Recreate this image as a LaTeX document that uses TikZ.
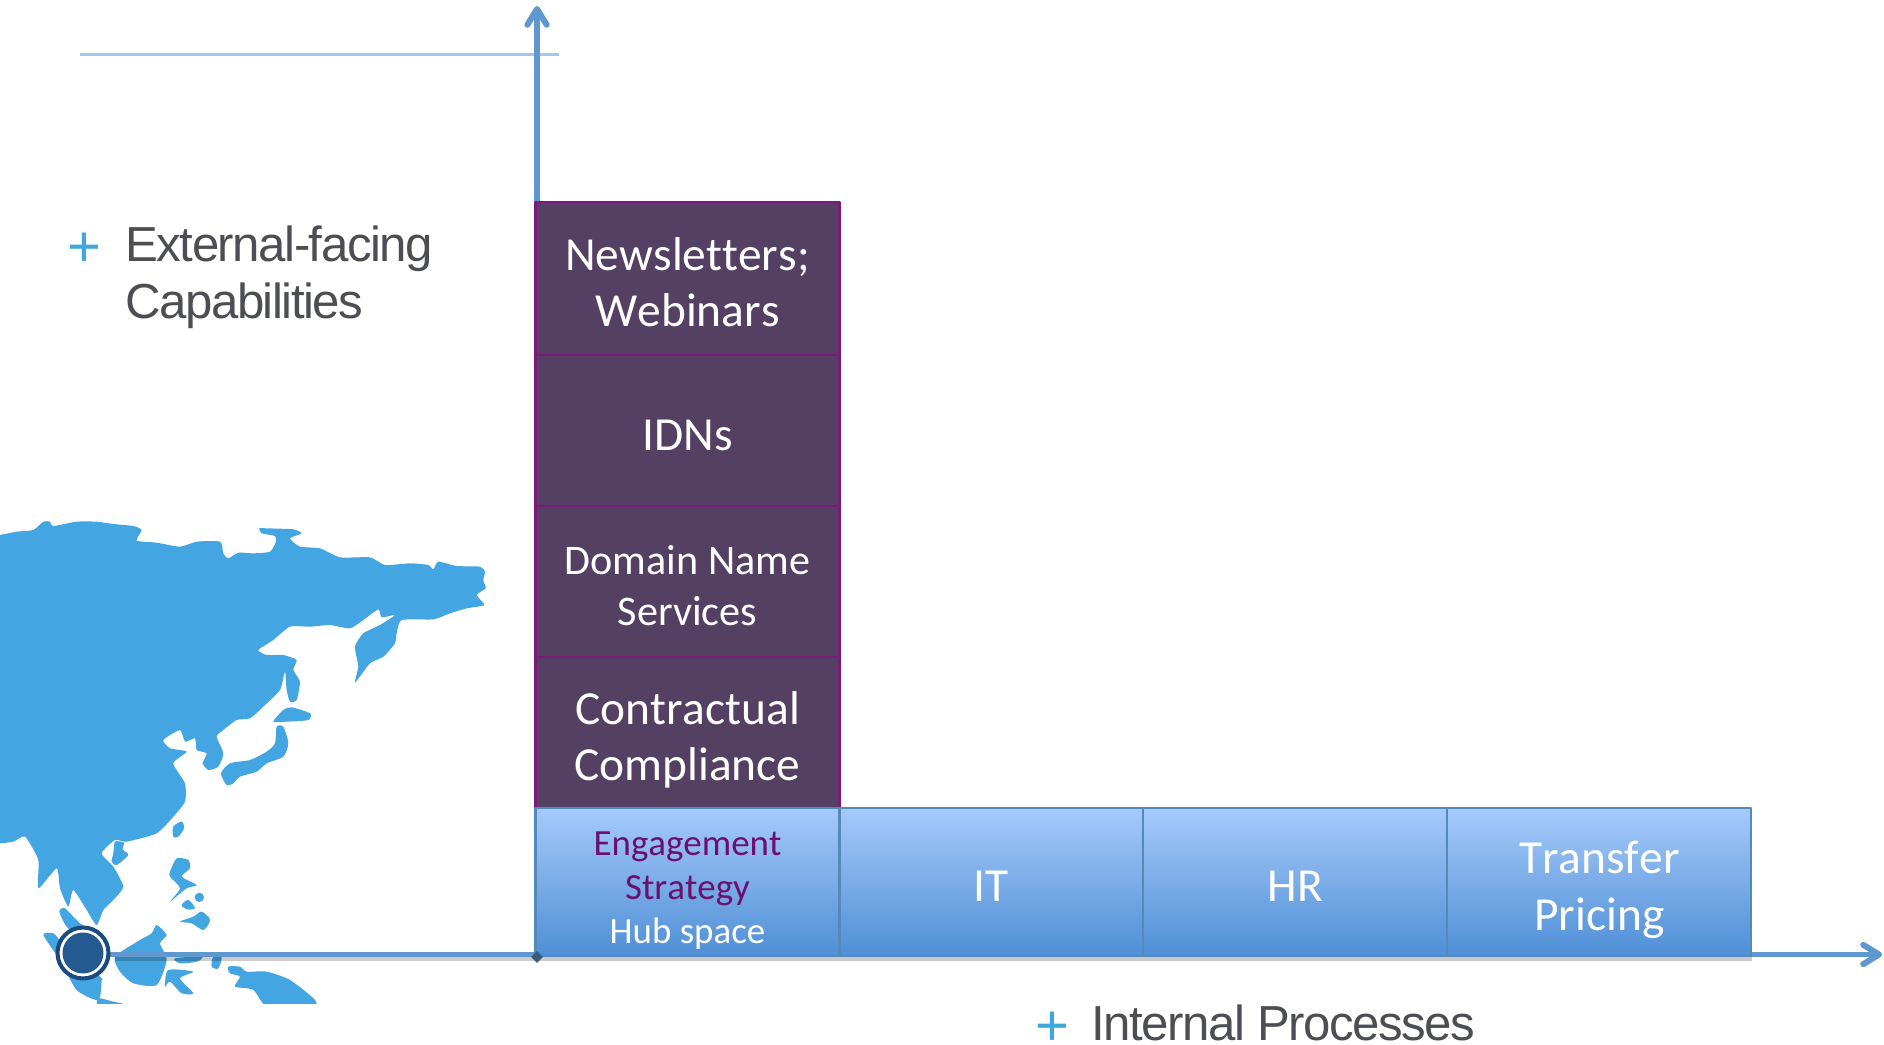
\documentclass[tikz,border=0pt]{standalone}
\usepackage{fontspec}
\setmainfont[Ligatures=NoCommon,Kerning=Off]{Carlito}
\newfontfamily\labelfont[LetterSpace=-3]{Liberation Sans}
\newfontfamily\plusfont{Liberation Sans}
\usepackage{tikz}
\usetikzlibrary{arrows.meta}
\usetikzlibrary{positioning}
\usetikzlibrary{shadows}
\usetikzlibrary{shapes.geometric}
\definecolor{axisblue}{HTML}{5E98CF}
\definecolor{mapblue}{HTML}{43A5E2}
\definecolor{plusblue}{HTML}{3EA8DC}
\definecolor{stackpurple}{HTML}{544062}
\definecolor{stackedge}{HTML}{7B1A7C}
\definecolor{labelgray}{HTML}{4D4E53}
\definecolor{engagepurple}{HTML}{6C0F6F}
\definecolor{bluetop}{HTML}{A6CAFA}
\definecolor{bluebottom}{HTML}{4F8FD6}
\definecolor{dotedge}{HTML}{1C4A7E}
\definecolor{dotcore}{HTML}{245A90}
\newcommand{\boxtext}[1]{\raisebox{-2.5pt}[\dimexpr\height+2.5pt\relax][\dimexpr\depth-2.5pt\relax]{\begin{tabular}{@{}c@{}}#1\end{tabular}}}
\tikzset{
  boxshadow/.style={drop shadow={shadow xshift=0.02cm,shadow yshift=-0.1cm,opacity=0.3,fill=black!70}},
  purplebox/.style={draw=stackedge,line width=1.4pt,fill=stackpurple,text=white,align=center,inner sep=0pt,outer sep=0pt,
    minimum width=6.08cm,minimum height=3.02cm,font=\fontsize{27}{32}\selectfont,boxshadow},
  bluebox/.style={draw=axisblue!90!black,line width=1.2pt,top color=bluetop,bottom color=bluebottom,
    text=white,align=center,inner sep=0pt,outer sep=0pt,minimum width=6.08cm,minimum height=2.96cm,
    font=\fontsize{27}{32}\selectfont,boxshadow},
  axisline/.style={draw=axisblue,line width=3pt,line cap=butt,-{Straight Barb[length=9pt,width=11pt,line width=3.4pt,round]}},
  axisshade/.style={draw=black,opacity=0.2,line width=2.5pt,line cap=butt},
  land/.style={fill=mapblue,draw=none},
  plussign/.style={text=plusblue,font=\plusfont\fontsize{33}{33}\selectfont,inner sep=0pt},
  axislabel/.style={text=labelgray,font=\labelfont\fontsize{28}{32}\selectfont,align=left,inner sep=0pt,anchor=base west}
}
\begin{document}
\begin{tikzpicture}[line cap=round,line join=round,x=0.02cm,y=-0.02cm]
\useasboundingbox (0,0) rectangle (1884,1045);
% map, in coordinates of the crop
\begin{scope}[shift={(0,500)},x=0.02cm/3,y=-0.02cm/3]
\clip (0,0) rectangle (1560,1510);
\fill[land] plot[smooth cycle,tension=0.35] coordinates {(-20,108) (0,105) (50,95) (100,90) (130,65) (150,65) (160,78) (230,65) (290,65) (340,72) (400,78) (425,90) (410,122) (470,128) (540,140) (590,125) (660,125) (670,160) (685,175) (715,158) (760,160) (810,155) (828,125) (825,108) (785,100) (778,85) (800,85) (880,88) (905,100) (870,115) (900,140) (960,145) (1020,172) (1110,172) (1155,195) (1230,190) (1285,195) (1300,208) (1315,185) (1370,198) (1440,200) (1455,215) (1450,240) (1457,265) (1430,285) (1453,315) (1400,325) (1350,340) (1300,358) (1205,360) (1190,400) (1185,430) (1150,470) (1110,490) (1065,548) (1075,500) (1065,440) (1090,400) (1140,375) (1185,345) (1145,352) (1135,328) (1090,360) (1050,385) (990,375) (930,380) (870,380) (820,420) (775,450) (800,465) (850,465) (890,480) (880,510) (900,545) (890,600) (870,605) (860,570) (855,515) (840,570) (790,620) (750,655) (710,660) (670,690) (650,710) (670,760) (655,800) (625,810) (608,790) (620,760) (590,750) (585,715) (555,725) (540,690) (490,720) (510,745) (560,755) (520,790) (555,850) (555,905) (520,950) (470,1000) (380,1025) (345,1020) (305,1060) (340,1100) (370,1160) (340,1200) (310,1230) (290,1275) (260,1230) (220,1170) (205,1220) (180,1165) (170,1105) (115,1165) (115,1080) (75,1010) (40,1025) (0,1030) (-20,1030) (-30,900) (-30,300)};
\fill[land] plot[smooth cycle,tension=0.4] coordinates {(345,1025) (340,1060) (335,1085) (350,1095) (385,1065) (368,1048) (372,1028)};
\fill[land] plot[smooth cycle,tension=0.4] coordinates {(830,680) (850,680) (865,730) (850,770) (800,790) (770,815) (720,830) (700,850) (680,855) (663,820) (690,790) (750,780) (800,755) (825,730)};
\fill[land] plot[smooth cycle,tension=0.4] coordinates {(820,665) (850,630) (875,622) (930,640) (925,660) (860,665)};
\fill[land] plot[smooth cycle,tension=0.5] coordinates {(520,1010) (520,980) (545,965) (552,985) (535,1010)};
\fill[land] plot[smooth cycle,tension=0.4] coordinates {(510,1115) (530,1075) (565,1080) (570,1105) (545,1130) (590,1155) (560,1165) (510,1205) (540,1165) (510,1130)};
\fill[land] (598,1192) circle (14);
\fill[land] plot[smooth cycle,tension=0.5] coordinates {(545,1215) (565,1200) (585,1225) (560,1228)};
\fill[land] plot[smooth cycle,tension=0.5] coordinates {(540,1265) (580,1250) (605,1235) (630,1260) (610,1290) (575,1270)};
\fill[land] plot[smooth cycle,tension=0.4] coordinates {(130,1305) (160,1300) (180,1320) (300,1430) (305,1440) (295,1500) (230,1470) (180,1380)};
\fill[land] plot[smooth cycle,tension=0.4] coordinates {(178,1235) (195,1225) (240,1270) (290,1300) (250,1320) (200,1280)};
\fill[land] plot[smooth cycle,tension=0.4] coordinates {(345,1370) (420,1320) (455,1300) (470,1275) (500,1305) (480,1330) (500,1380) (470,1455) (400,1450) (360,1415)};
\fill[land] plot[smooth cycle,tension=0.4] coordinates {(505,1410) (580,1415) (540,1435) (580,1480) (545,1480) (510,1445) (495,1460)};
\fill[land] plot[smooth cycle,tension=0.5] coordinates {(525,1375) (605,1370) (590,1385) (540,1390)};
\fill[land] plot[smooth cycle,tension=0.5] coordinates {(640,1370) (665,1370) (655,1405) (635,1400)};
\fill[land] plot[smooth cycle,tension=0.4] coordinates {(685,1400) (720,1400) (740,1415) (800,1415) (870,1440) (945,1500) (940,1530) (810,1530) (760,1470) (705,1460) (720,1430) (690,1420)};
\fill[land] plot[smooth cycle,tension=0.5] coordinates {(295,1495) (340,1505) (400,1520) (300,1520)};
\end{scope}
% axes
\coordinate (origin) at (537,954.5);
\coordinate (xend) at (1882,954.5);
\coordinate (yend) at (537,6);
\coordinate (hubdot) at (83,953);
\coordinate (hubedge) at (83,954.5);
\coordinate (ruleleft) at (80,54.5);
\coordinate (ruleright) at (559,54.5);
\coordinate (shadeleft) at (115,959);
\coordinate (shaderight) at (537,959);
\draw[draw=axisblue!55!white,line width=1.7pt,line cap=butt] (ruleleft) -- (ruleright);
\draw[axisshade] (shadeleft) -- (shaderight);
\draw[axisline] (origin) -- (yend);
\draw[axisline] (hubedge) -- (xend);
% stacks
\node[purplebox,minimum height=3.06cm] (newsletters) at (687.5,278.5) {\boxtext{Newsletters;\\Webinars}};
\node[purplebox,below=0pt of newsletters] (idns) {\boxtext{IDNs}};
\node[purplebox,below=0pt of idns,font=\fontsize{24}{29}\selectfont] (domain) {\boxtext{Domain Name\\Services}};
\node[purplebox,below=0pt of domain] (contractual) {\boxtext{Contractual\\Compliance}};
\node[bluebox,below=0pt of contractual,font=\fontsize{21}{25}\selectfont] (engagement) {\boxtext{\textcolor{engagepurple}{Engagement}\\\textcolor{engagepurple}{Strategy}\\Hub space}};
\node[bluebox,right=0pt of engagement] (it) {\boxtext{IT}};
\node[bluebox,right=0pt of it] (hr) {\boxtext{HR}};
\node[bluebox,right=0pt of hr] (transfer) {\boxtext{Transfer\\Pricing}};
\node[diamond,fill=axisblue!60!black,minimum size=0.24cm,inner sep=0pt] (origindot) at (537,957) {};
% dot on the map
\node[circle,draw=dotedge,line width=2.3pt,fill=white,minimum size=1.02cm,inner sep=0pt] (dotring) at (hubdot) {};
\node[circle,fill=dotcore,minimum size=0.82cm,inner sep=0pt] (dotmid) at (hubdot) {};
% labels
\node[plussign] (plusext) at (84,250) {+};
\node[axislabel] (extlabel) at (125,318) {External-facing\\Capabilities};
\node[plussign] (plusint) at (1052,1029) {+};
\node[axislabel,text depth=0pt] (intlabel) at (1091,1040) {Internal Processes};
\end{tikzpicture}
\end{document}
